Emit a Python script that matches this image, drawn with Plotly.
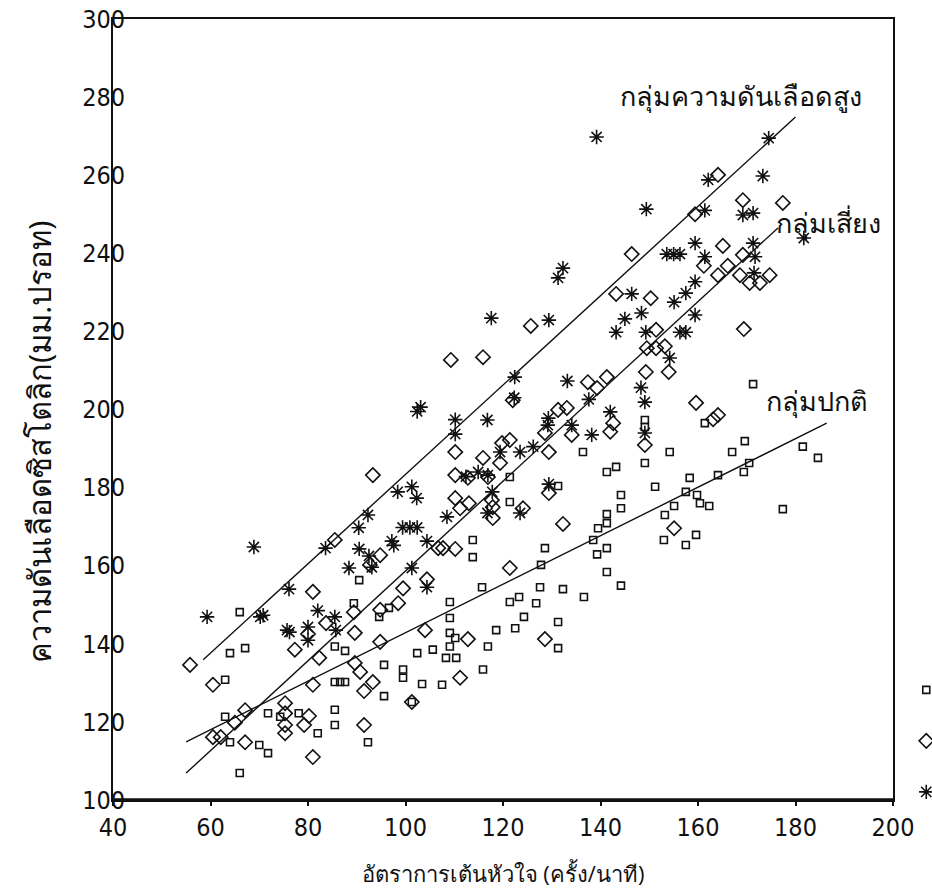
import plotly.graph_objects as go

# ---- data ----
normal_x = [66.0, 63.0, 64.0, 67.1, 90.5, 89.4, 96.6, 94.6, 115.7, 121.4, 123.3, 109.1, 109.1, 109.1, 110.2,
            109.1, 108.3, 110.4, 105.6, 102.4, 116.9, 115.9, 107.5, 103.4, 99.5, 99.5, 95.6, 95.6, 85.5, 86.6,
            87.6, 85.5, 87.6, 85.5, 85.5, 92.3, 78.1, 82.0, 71.8, 70.0, 71.8, 66.0, 64.0, 63.0, 113.8,
            113.8, 121.4, 121.4, 118.6, 122.5, 124.3, 126.8, 127.6, 132.3, 136.6, 131.3, 131.3, 127.8, 128.6,
            131.3, 136.4, 139.3, 141.3, 141.3, 144.2, 138.5, 139.5, 141.3, 141.3, 144.2, 144.2, 141.3, 143.2,
            149.1, 149.1, 149.1, 151.2, 153.0, 153.2, 155.1, 157.5, 159.6, 154.2, 157.5, 158.3, 159.8, 160.4,
            162.3, 164.1, 169.4, 170.5, 167.0, 169.6, 181.5, 184.6, 177.4, 171.3, 161.4, 101.3, 74.3]
normal_y = [148.1, 130.8, 137.6, 138.9, 156.3, 150.4, 149.2, 146.9, 154.5, 150.7, 152.0, 150.7, 146.6, 142.8, 141.5,
            139.3, 136.4, 136.4, 138.5, 137.6, 139.3, 133.4, 129.5, 129.7, 133.4, 131.3, 134.6, 126.6, 130.2, 130.2,
            130.2, 139.3, 138.2, 123.1, 119.2, 114.8, 122.2, 117.1, 122.2, 114.1, 112.0, 106.9, 114.8, 121.3, 166.6,
            162.2, 182.7, 176.3, 143.5, 144.0, 146.9, 150.4, 154.5, 154.0, 152.0, 145.6, 138.9, 160.2, 164.5,
            180.4, 189.1, 162.9, 164.5, 158.4, 154.9, 166.6, 169.6, 170.9, 173.2, 174.7, 178.1, 184.0, 185.3,
            197.3, 195.5, 186.3, 180.2, 166.6, 173.0, 175.3, 165.3, 167.9, 189.1, 178.9, 182.5, 178.1, 176.0,
            175.3, 183.2, 184.0, 186.3, 189.1, 191.9, 190.5, 187.6, 174.5, 206.5, 196.5, 125.1, 121.3]

risk_x = [55.8, 60.5, 60.5, 62.1, 67.1, 67.1, 65.0, 75.3, 75.3, 75.3, 75.3, 79.2, 80.2, 81.0, 81.0, 82.3,
          77.3, 80.0, 81.0, 83.7, 89.4, 89.6, 89.6, 90.7, 91.5, 91.5, 93.3, 94.8, 94.8, 98.5, 99.5, 101.3,
          104.0, 111.2, 112.8, 104.4, 85.5, 92.7, 94.8, 106.7, 107.7, 110.2, 93.3, 110.2, 110.2, 112.8, 110.2,
          111.2, 113.0, 116.9, 115.9, 119.4, 119.8, 121.4, 117.9, 117.9, 117.7, 109.3, 115.9, 125.7, 122.0,
          121.4, 124.1, 129.4, 128.6, 132.3, 128.6, 131.3, 133.1, 134.1, 129.4, 137.4, 139.3, 141.3, 142.6,
          142.0, 149.1, 155.1, 159.6, 164.1, 163.1, 143.2, 150.3, 146.4, 149.5, 151.4, 153.2, 149.3, 154.0,
          151.4, 159.4, 161.2, 165.1, 164.1, 166.1, 168.6, 170.6, 172.7, 174.7, 169.2, 169.2, 177.4, 169.4, 164.1]
risk_y = [134.6, 129.5, 116.1, 116.1, 114.8, 123.0, 119.8, 124.8, 122.2, 119.2, 117.1, 119.2, 121.5, 111.0, 129.5, 136.4,
          138.5, 142.5, 153.3, 145.3, 148.1, 142.8, 135.1, 132.8, 127.9, 119.2, 130.2, 148.7, 140.5, 150.4, 154.2, 125.1,
          143.5, 131.3, 141.2, 156.5, 166.6, 160.2, 162.7, 164.5, 164.5, 164.3, 183.2, 189.1, 183.2, 182.5, 177.3,
          174.7, 176.0, 182.7, 187.6, 186.3, 191.4, 192.2, 175.0, 172.2, 176.8, 212.7, 213.4, 221.4, 202.4,
          159.4, 174.7, 178.6, 141.2, 170.7, 194.0, 199.9, 200.4, 193.5, 189.1, 207.0, 205.5, 208.3, 196.5,
          194.3, 190.9, 169.6, 201.7, 198.6, 197.5, 229.6, 228.5, 239.8, 215.7, 215.7, 216.2, 209.6, 209.6,
          220.4, 250.0, 236.8, 241.9, 234.4, 236.8, 234.4, 232.4, 232.4, 234.4, 239.6, 253.6, 252.9, 220.6, 260.1]

high_x = [59.3, 68.9, 70.2, 70.8, 75.7, 76.2, 76.1, 80.0, 80.0, 82.0, 85.5, 85.7, 83.6, 88.4, 90.5, 92.5,
          93.1, 90.4, 92.3, 97.2, 97.6, 99.4, 100.9, 102.4, 104.4, 98.4, 101.3, 102.3, 101.3, 104.4, 108.5,
          102.4, 103.1, 110.2, 110.2, 116.8, 114.9, 116.9, 117.8, 116.8, 112.4, 119.4, 117.6, 122.4, 122.3,
          123.5, 126.2, 123.5, 129.4, 129.3, 129.2, 129.4, 132.3, 131.3, 133.2, 134.1, 137.6, 138.2, 139.2,
          142.0, 143.2, 145.0, 148.4, 146.4, 148.3, 149.1, 149.1, 149.3, 149.4, 153.6, 155.0, 156.3, 154.2,
          155.1, 157.5, 156.3, 157.5, 159.4, 159.4, 159.4, 161.4, 161.4, 162.1, 169.2, 171.3, 171.3, 171.7,
          171.5, 173.3, 174.5, 181.7]
high_y = [146.9, 164.8, 146.9, 147.3, 143.5, 143.0, 154.0, 144.3, 140.9, 148.5, 146.9, 143.5, 164.5, 159.4, 164.3, 162.5,
          159.6, 169.7, 173.0, 166.3, 165.2, 169.8, 169.8, 169.8, 166.3, 178.9, 180.2, 177.3, 159.4, 154.5, 172.5,
          199.5, 200.6, 197.4, 193.7, 197.3, 184.0, 183.2, 178.9, 173.5, 182.8, 189.1, 223.4, 208.3, 203.0,
          189.1, 190.5, 173.5, 180.9, 197.8, 196.0, 222.9, 236.2, 233.7, 207.3, 196.0, 202.6, 193.5, 269.8,
          199.4, 219.8, 223.2, 224.7, 229.6, 205.6, 201.9, 194.0, 219.8, 251.3, 239.8, 239.8, 239.8, 213.2,
          227.5, 229.8, 219.8, 219.8, 232.7, 224.2, 242.6, 239.1, 251.0, 258.8, 249.8, 250.3, 242.6, 239.1,
          235.0, 259.8, 269.5, 243.9]

# regression lines (end points)
normal_line_x = [55.0, 186.4]
normal_line_y = [114.9, 196.5]
risk_line_x = [55.0, 176.4]
risk_line_y = [106.9, 246.5]
high_line_x = [58.5, 180.0]
high_line_y = [135.9, 274.9]

group_names = ["กลุ่มปกติ", "กลุ่มเสี่ยง", "กลุ่มความดันเลือดสูง"]
label_x = [184.4, 186.8, 168.8]
label_y = [202.4, 248.0, 280.5]

x_ticks = [40, 60, 80, 100, 120, 140, 160, 180, 200]
y_ticks = [100, 120, 140, 160, 180, 200, 220, 240, 260, 280, 300]

x_title = "อัตราการเต้นหัวใจ (ครั้ง/นาที)"
y_title = "ความดันเลือดซิสโตลิก(มม.ปรอท)"

# ---- figure ----
fig = go.Figure()
black = "#111111"
line_style = dict(color=black, width=1.4)

for lx, ly in [(normal_line_x, normal_line_y), (risk_line_x, risk_line_y), (high_line_x, high_line_y)]:
    fig.add_trace(go.Scatter(x=lx, y=ly, mode="lines", line=line_style, showlegend=False, hoverinfo="skip"))

symbols = ["square-open", "diamond-open", "asterisk-open"]
sizes = [7, 11, 12]
for i, (gx, gy) in enumerate([(normal_x, normal_y), (risk_x, risk_y), (high_x, high_y)]):
    fig.add_trace(go.Scatter(
        x=gx, y=gy, mode="markers", name=" ", legendgroup="g%d" % i,
        hovertemplate=group_names[i] + "<br>%{x}, %{y}<extra></extra>",
        marker=dict(symbol=symbols[i], size=sizes[i], color=black, line=dict(width=1.6, color=black))))

# invisible helper trace so the tick-label axis (y2) is drawn
fig.add_trace(go.Scatter(x=[x_ticks[0]], y=[y_ticks[0]], yaxis="y2", mode="markers",
                         marker=dict(opacity=0), showlegend=False, hoverinfo="skip"))

for name, tx, ty in zip(group_names, label_x, label_y):
    fig.add_annotation(x=tx, y=ty, text=name, showarrow=False, xanchor="center", yanchor="middle",
                       font=dict(size=27, color=black))

# y-axis title (placed as in the reference, left of the axis)
fig.add_annotation(xref="paper", yref="paper", x=-0.094, y=0.458, text=y_title, textangle=-90,
                   showarrow=False, xanchor="center", yanchor="middle", font=dict(size=31, color=black))

# heavier bottom axis line, as in the reference
fig.add_shape(type="line", xref="paper", yref="paper", x0=0, x1=1, y0=0, y1=0,
              line=dict(color=black, width=3.5), layer="above")

num_font = dict(family="DejaVu Sans Condensed, Liberation Sans Narrow, Liberation Sans, sans-serif",
                size=25, color=black)

fig.update_xaxes(range=[40, 200], tickvals=x_ticks, ticktext=[str(v) for v in x_ticks],
                 showgrid=False, zeroline=False, showline=True, linecolor=black, linewidth=2, mirror=True,
                 ticks="outside", ticklen=4, tickwidth=2, tickcolor=black, tickfont=num_font,
                 title=dict(text=x_title, font=dict(size=22, color=black), standoff=26))
fig.update_layout(
    yaxis=dict(range=[100, 300], tickvals=y_ticks, showticklabels=False,
               showgrid=False, zeroline=False, showline=True, linecolor=black, linewidth=2, mirror=True,
               ticks=""),
    # tick labels sit over the axis line, as in the reference
    yaxis2=dict(range=[100, 300], tickvals=y_ticks, ticktext=[str(v) for v in y_ticks], overlaying="y",
                anchor="free", position=0.0155, side="left", showline=False, showgrid=False,
                zeroline=False, ticks="", tickfont=num_font),
)

fig.update_layout(
    width=932, height=896,
    margin=dict(l=113, r=39, t=19, b=96, autoexpand=False),
    paper_bgcolor="white", plot_bgcolor="white",
    font=dict(color=black),
    showlegend=True,
    legend=dict(x=1.017, xanchor="left", y=0.166, yanchor="top", traceorder="grouped", tracegroupgap=22,
                font=dict(size=20, color=black), bgcolor="rgba(0,0,0,0)", itemwidth=30),
)

fig.write_html("out.html")
